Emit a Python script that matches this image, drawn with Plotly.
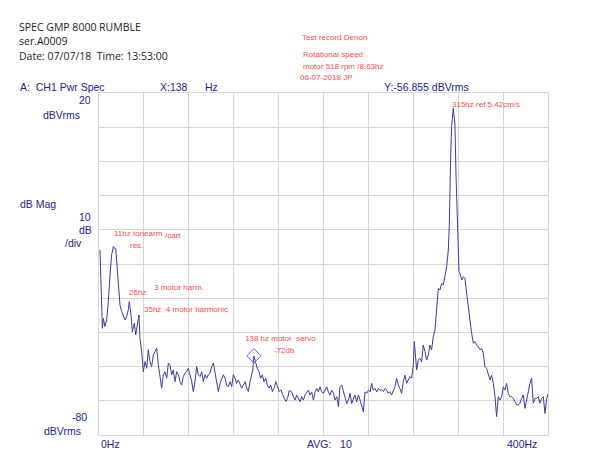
import plotly.graph_objects as go

# ---------------- data (Hz, dBVrms) ----------------
freq_low = [0.9, 3.0, 3.9, 5.3, 6.8, 8.3, 9.8, 11.3, 12.8, 13.7,
            14.9, 15.7, 17.2, 18.7, 20.2, 21.7, 23.2, 24.6, 26.1, 27.0,
            28.5, 29.7, 31.5, 32.7, 34.4, 35.6, 36.5, 38.0, 39.5, 41.0,
            42.5, 43.9, 45.4, 46.9, 48.4, 49.9, 51.4, 52.9, 54.3, 55.8,
            57.3, 58.8, 60.3, 61.8, 63.3, 64.7, 66.2, 67.7, 69.2, 70.7,
            72.2, 73.6, 75.1, 76.6, 78.1, 79.6, 81.1, 82.6, 84.0, 85.5,
            87.0, 88.5, 90.0, 91.5, 92.9, 94.4, 95.9, 97.4, 98.9, 100.4,
            101.9, 103.3, 104.8, 106.3, 107.8, 109.3, 110.8, 112.3, 113.7, 115.2,
            116.7, 118.2, 119.7, 121.2, 122.6, 124.1, 125.6, 127.1, 128.6, 130.1,
            131.6, 133.0, 134.5, 136.0, 137.0, 138.0, 139.5, 141.0, 142.5, 144.0,
            145.5, 147.0, 148.5, 150.0, 151.5, 153.0, 154.5, 156.0, 157.5, 159.0,
            160.5, 162.0, 163.5, 165.0, 166.5, 168.0, 169.5]
db_low = [-25.9, -48.8, -45.9, -48.3, -46.4, -41.0, -33.2, -27.3, -24.9, -25.4,
          -25.4, -29.3, -36.1, -42.0, -43.9, -45.4, -46.4, -45.4, -43.4, -41.0,
          -44.9, -49.8, -47.3, -50.7, -46.8, -44.9, -51.7, -55.6, -61.5, -58.5,
          -60.5, -55.1, -58.5, -60.0, -56.6, -55.6, -54.6, -59.5, -63.4, -66.3,
          -62.4, -61.5, -63.4, -59.0, -59.5, -62.4, -61.0, -64.4, -61.5, -62.4,
          -64.4, -65.4, -62.9, -61.9, -61.5, -60.5, -62.4, -64.4, -67.3, -64.4,
          -60.0, -62.4, -62.9, -61.5, -64.4, -62.4, -63.4, -62.4, -61.9, -60.0,
          -59.0, -61.5, -64.4, -67.3, -64.9, -63.4, -62.4, -63.4, -65.4, -65.9,
          -64.4, -65.9, -62.4, -63.4, -64.9, -63.9, -64.9, -66.3, -65.4, -64.4,
          -66.3, -67.3, -64.4, -62.4, -61.0, -56.9, -59.0, -60.5, -61.5, -63.4,
          -62.4, -64.4, -63.4, -65.4, -66.3, -65.4, -67.3, -66.3, -64.4, -65.9,
          -67.3, -66.8, -68.3, -69.3, -70.2, -69.3, -67.0]

freq_mid = [171.7, 173.2, 174.7, 176.1, 177.6, 179.1, 180.6, 182.1, 183.6, 185.0,
            186.5, 188.0, 189.5, 191.0, 192.5, 194.0, 195.4, 196.9, 198.4, 199.9,
            201.4, 202.9, 204.3, 205.8, 207.3, 208.8, 210.3, 211.8, 213.3, 214.7,
            216.2, 217.7, 219.2, 220.7, 222.2, 223.7, 225.1, 226.6, 228.1, 229.6,
            231.1, 232.6, 234.0, 235.5, 237.0, 238.5, 240.0, 241.5, 242.9, 244.4,
            245.9, 247.4, 248.9, 250.4]
db_mid = [-67.4, -68.8, -69.8, -68.3, -69.3, -70.3, -68.8, -69.8, -68.3, -67.4,
          -66.9, -68.3, -67.4, -69.8, -67.4, -66.4, -67.4, -65.9, -67.4, -67.8,
          -66.9, -65.9, -67.4, -68.3, -66.9, -67.8, -69.8, -68.8, -71.7, -65.9,
          -65.4, -67.4, -68.8, -70.8, -69.8, -67.8, -70.8, -69.3, -68.3, -70.3,
          -68.3, -69.8, -71.7, -73.2, -67.4, -67.8, -66.9, -67.4, -64.9, -66.9,
          -66.4, -67.4, -66.4, -66.9]

freq_high = [251.8, 253.3, 254.8, 256.2, 257.7, 259.2, 260.7, 262.2, 263.7, 265.1,
             266.6, 268.1, 269.6, 271.1, 272.6, 274.1, 275.5, 277.0, 278.5, 280.0,
             280.9, 281.5, 283.0, 284.4, 285.9, 287.4, 288.9, 290.4, 291.9, 293.4,
             294.8, 296.3, 297.8, 299.3, 300.8, 302.3, 303.8, 305.2, 306.7, 308.2,
             309.7, 311.2, 312.1, 313.3, 314.1, 315.6, 317.1, 318.0, 319.2, 320.7,
             321.6, 323.1, 324.5, 326.0, 327.5, 329.0, 330.5, 332.0, 333.5, 334.9,
             336.4, 337.9, 339.4, 340.9, 342.4, 343.8, 345.3, 346.8, 348.3, 349.8,
             351.3, 352.8, 354.2, 355.7, 357.2, 358.7, 360.2, 361.7, 363.1, 364.6,
             366.1, 367.6, 369.1, 370.6, 372.1, 373.5, 375.0, 376.5, 378.0, 379.5,
             381.0, 382.4, 383.9, 385.4, 386.9, 388.4, 389.9, 391.4, 392.8, 394.3,
             395.8, 397.3, 398.8, 400.0]
db_high = [-66.8, -67.3, -66.4, -66.8, -67.8, -67.3, -68.3, -66.8, -65.9, -63.4,
           -65.4, -66.4, -67.8, -64.4, -62.5, -64.9, -63.9, -62.9, -63.4, -59.5,
           -52.7, -55.1, -61.0, -58.1, -57.6, -58.6, -53.7, -55.6, -58.1, -56.6,
           -53.7, -55.1, -51.3, -49.3, -42.5, -37.1, -37.6, -35.7, -36.1, -33.7,
           -30.8, -25.9, -18.1, 1.4, 10.2, 15.5, 11.1, -3.5, -20.1, -32.2,
           -32.7, -34.7, -33.7, -34.2, -38.6, -42.5, -47.4, -50.3, -53.2, -52.7,
           -53.7, -54.2, -55.1, -54.7, -56.1, -60.0, -60.5, -62.0, -63.9, -62.5,
           -64.9, -68.8, -74.6, -68.8, -69.8, -68.8, -65.9, -66.8, -64.9, -67.8,
           -68.8, -68.8, -69.3, -70.3, -71.2, -71.2, -70.7, -69.3, -68.3, -72.2,
           -69.3, -66.8, -64.9, -63.4, -70.7, -69.3, -69.3, -68.8, -70.7, -69.3,
           -68.8, -73.7, -69.3, -68.0]

marker_freq = [138]
marker_db = [-56.855]

x_range = [0, 400]
y_range = [-80, 20]

freqs = freq_low + freq_mid + freq_high
levels = db_low + db_mid + db_high

# ---------------- figure ----------------
L, R, T, B = 99, 52, 93, 33
W, H = 600, 468
PW, PH = W - L - R, H - T - B

BLUE = "#23238c"
RED = "#ff4a4a"
DARK = "#1e1e1e"
FONT = "Liberation Sans"

fig = go.Figure()
fig.add_trace(go.Scatter(x=freqs, y=levels, mode="lines",
                         line=dict(color="#3d3d9e", width=1),
                         hoverinfo="skip", showlegend=False))
fig.add_trace(go.Scatter(x=marker_freq, y=marker_db, mode="markers",
                         marker=dict(symbol="diamond-open", size=11,
                                     color="#5a5aff", line=dict(width=1)),
                         showlegend=False))


def ann(text, px, py, color, size, anchor="left", family=FONT):
    return dict(text=text, x=(px - L) / PW, y=(T + PH - py) / PH,
                xref="paper", yref="paper", xanchor=anchor, yanchor="middle",
                showarrow=False, font=dict(color=color, size=size, family=family))


HDR = "Open Sans"
anns = [
    ann("SPEC GMP 8000 RUMBLE", 17, 27, DARK, 10.5, family=HDR),
    ann("ser.A0009", 17, 41, DARK, 10.5, family=HDR),
    ann("Date: 07/07/18  Time: 13:53:00", 17, 56, DARK, 10.5, family=HDR),
    ann("A:  CH1 Pwr Spec", 18, 87, BLUE, 10.5),
    ann("X:138", 158, 87, BLUE, 10.5),
    ann("Hz", 203, 87, BLUE, 10.5),
    ann("Y:-56.855 dBVrms", 382, 87, BLUE, 10.5),
    ann("20", 93, 100, BLUE, 10.5, "right"),
    ann("dBVrms", 82, 115, BLUE, 10.5, "right"),
    ann("dB Mag", 18, 204, BLUE, 10.5),
    ann("10", 93, 217, BLUE, 10.5, "right"),
    ann("dB", 94, 230, BLUE, 10.5, "right"),
    ann("/div", 84, 243, BLUE, 10.5, "right"),
    ann("-80", 89, 417, BLUE, 10.5, "right"),
    ann("dBVrms", 83, 431, BLUE, 10.5, "right"),
    ann("0Hz", 99, 444, BLUE, 10.5),
    ann("AVG:   10", 305, 444, BLUE, 10.5),
    ann("400Hz", 505, 444, BLUE, 10.5),
    ann("Test record Denon", 300, 37, RED, 8),
    ann("Rotational speed", 301, 55, RED, 8),
    ann("motor 518 rpm /8.63hz", 301, 66, RED, 8),
    ann("06-07-2018 JP", 298, 77, RED, 8),
    ann("11hz tonearm", 112, 233, RED, 8),
    ann("/cart", 163, 235, RED, 8),
    ann("res.", 128, 245, RED, 8),
    ann("26hz", 127, 292, RED, 8),
    ann("3 motor harm.", 152, 287, RED, 8),
    ann("35hz  4 motor harmonic", 142, 309, RED, 8),
    ann("138 hz motor  servo", 243, 338, RED, 8),
    ann("-72db", 272, 350, RED, 8),
    ann("315hz ref.5.42cm/s", 450, 104, RED, 8),
]

GRID = "#d8d8d8"
fig.update_layout(
    width=W, height=H,
    margin=dict(l=L, r=R, t=T, b=B),
    paper_bgcolor="white", plot_bgcolor="white",
    showlegend=False,
    annotations=anns,
    xaxis=dict(range=x_range, dtick=40, showticklabels=False, ticks="",
               showgrid=True, gridcolor=GRID, gridwidth=1, zeroline=False,
               showline=True, linecolor=GRID, linewidth=1, mirror=True,
               fixedrange=True),
    yaxis=dict(range=y_range, dtick=10, showticklabels=False, ticks="",
               showgrid=True, gridcolor=GRID, gridwidth=1, zeroline=False,
               showline=True, linecolor=GRID, linewidth=1, mirror=True,
               fixedrange=True),
)

fig.write_html("out.html")
